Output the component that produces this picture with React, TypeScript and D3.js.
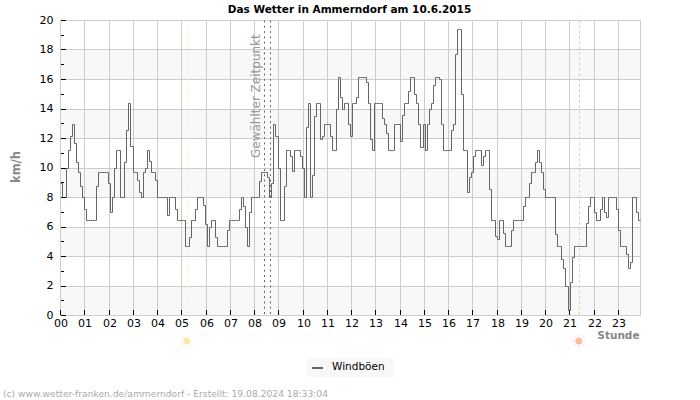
import React from "react";
import * as d3 from "d3";

const hourLabels = ["00","01","02","03","04","05","06","07","08","09","10","11","12","13","14","15","16","17","18","19","20","21","22","23"];
const majorTicks = [0,2,4,6,8,10,12,14,16,18,20];
const minorTicks = [1,3,5,7,9,11,13,15,17,19];
const bands = [0,4,8,12,16];
const sunrise = 5.25;
const sunset = 21.4;
const selected = [8.4, 8.65];

const h00 = [9,8,8,10,11.2,12.2,13,11.7,10.4,9.7,8.8,8];
const h01 = [7.2,6.5,6.5,6.5,6.5,6.5,8.8,9.7,9.7,9.7,9.7,9.7];
const h02 = [9,7,8,10,11.2,11.2,8,8,10.4,12.6,14.4,11.5];
const h03 = [9.7,9.7,9.2,8.4,8,9.7,10,11.2,10.5,9.7,9.7,9.2];
const h04 = [8,8,8,8,8,6.8,8,8,8,7.2,6.5,6.5];
const h05 = [6.5,6.5,4.7,4.7,5.3,6.5,6.5,7.2,8,8,8,7.5];
const h06 = [6.2,4.7,6,6.5,6.5,5.3,4.7,4.7,4.7,4.7,4.7,5.8];
const h07 = [6.5,6.5,6.5,6.5,6.5,7.2,8,7.4,6,4.7,7,8];
const h08 = [8,8,8,9.1,9.7,9.7,9.7,9.4,8,9,13,12.2];
const h09 = [10,6.5,6.5,8.8,11.2,11.2,10.8,9.8,11.2,11.2,11.2,10.8];
const h10 = [10,8,12.8,14.4,8,9.5,13.5,14.4,14.4,12,12.2,13];
const h11 = [13,13,12.2,11.2,11.2,14,16.2,14.8,14,14.4,14.4,13];
const h12 = [12.2,14.4,14.4,14.8,16.2,16.2,16.2,16.2,15.8,14.4,12,11.2];
const h13 = [14.4,14.4,14.4,14.4,13.4,13,12.4,11.2,11.2,11.2,13,13];
const h14 = [13,11.8,13.6,14.4,14.4,15.2,16.2,16.2,15,14.4,13,11.4];
const h15 = [13,11.2,13,14,14.4,15.6,16.2,16.2,16,13,11.2,11.2];
const h16 = [11.2,11.2,12.6,13,17.7,19.4,19.4,15,11.2,11.2,8.4,9.4];
const h17 = [9.7,10.8,11.2,11.2,11.2,10.2,10.8,11.2,11.2,8.6,6.5,6.5];
const h18 = [5.4,5.2,6.5,6.5,5.6,4.7,4.7,4.7,5.8,6.5,6.5,6.5];
const h19 = [6.5,6.5,7.4,8,8,9,9.7,9.7,10.4,11.2,10.4,9.7];
const h20 = [8.6,8,8,8,8,8,5.5,4.7,4.7,3.8,3.2,2];
const h21 = [0.4,2.3,4,4.7,4.7,4.7,4.7,4.7,4.7,6.3,7.4,8];
const h22 = [8,7,6.5,6.5,7.2,8,7,6.7,8,8,8,8];
const h23 = [7.2,5.8,4.7,4.7,4.7,4.2,3.2,3.6,8,8,7,6.5];

const gusts = [h00,h01,h02,h03,h04,h05,h06,h07,h08,h09,h10,h11,h12,h13,h14,h15,h16,h17,h18,h19,h20,h21,h22,h23].flat();

const FONT = "'DejaVu Sans', sans-serif";
const GRID = "#cccccc";

function Sun({ cx, cy, color, ray }: { cx: number; cy: number; color: string; ray: string }) {
  const angles = d3.range(0, 360, 45);
  return (
    <g>
      {angles.map((a) => {
        const r = (a * Math.PI) / 180;
        return (
          <line key={a} x1={cx + 3 * Math.cos(r)} y1={cy + 3 * Math.sin(r)} x2={cx + 6.5 * Math.cos(r)} y2={cy + 6.5 * Math.sin(r)} stroke={ray} strokeWidth={1} />
        );
      })}
      <circle cx={cx} cy={cy} r={3.3} fill={color} />
    </g>
  );
}

export default function App() {
  // The hour axis ends at the last sample (23:55), the plot's right edge.
  const hx = d3.scaleLinear().domain([0, 287 / 12]).range([60, 640]);
  const sx = d3.scaleLinear().domain([0, 24]).range([60.5, 640.5]);
  const y = d3.scaleLinear().domain([0, 20]).range([315.5, 20.5]);
  const gridX = (h: number) => Math.round(hx(h)) + 0.5;
  const gridY = (v: number) => Math.floor(y(v)) + 0.5;
  const line = d3
    .line<number>()
    .x((_, i) => Math.floor(sx(i / 12)) + 0.5)
    .y((d) => Math.round(y(d)) + 0.5)
    .curve(d3.curveStepAfter);
  const series = [...gusts, gusts[gusts.length - 1]];

  return (
    <svg
      width={700}
      height={400}
      style={{ position: "absolute", left: 0, top: 0, background: "#ffffff" }}
      fontFamily={FONT}
    >
      <text x={349.5} y={13} textAnchor="middle" fontSize={10.5} fontWeight="bold" fill="#000">
        Das Wetter in Ammerndorf am 10.6.2015
      </text>

      {bands.map((b) => (
        <rect key={b} x={60.5} width={580} y={gridY(b + 2)} height={gridY(b) - gridY(b + 2)} fill="#f8f8f8" />
      ))}

      {majorTicks.map((t) => (
        <line key={t} x1={60.5} x2={640.5} y1={gridY(t)} y2={gridY(t)} stroke={GRID} />
      ))}
      {hourLabels.map((_, i) => (
        <line key={i} x1={gridX(i)} x2={gridX(i)} y1={gridY(20)} y2={gridY(0)} stroke={GRID} />
      ))}
      <line x1={640.5} x2={640.5} y1={gridY(20)} y2={gridY(0)} stroke={GRID} />

      <line x1={gridX(sunrise)} x2={gridX(sunrise)} y1={gridY(20)} y2={gridY(0)} stroke="#f7f2a0" strokeDasharray="2,3.3" />
      <line x1={gridX(sunset)} x2={gridX(sunset)} y1={gridY(20)} y2={gridY(0)} stroke="#eecb80" strokeDasharray="2.5,2.8" />
      {selected.map((s) => (
        <line key={s} x1={gridX(s)} x2={gridX(s)} y1={gridY(20)} y2={gridY(0)} stroke="#666" strokeDasharray="2,3.3" />
      ))}

      <text transform="translate(260,158) rotate(-90)" fontSize={12} fill="#999999">
        Gewählter Zeitpunkt
      </text>

      <path d={line(series) ?? ""} fill="none" stroke="#666666" strokeWidth={1} />

      {majorTicks.map((t) => (
        <g key={t}>
          <line x1={61} x2={66} y1={gridY(t)} y2={gridY(t)} stroke="#000" />
          <text x={53.5} y={y(t) + 3} textAnchor="end" fontSize={11} fill="#000">
            {t}
          </text>
        </g>
      ))}
      {minorTicks.map((t) => (
        <line key={t} x1={61} x2={64} y1={gridY(t)} y2={gridY(t)} stroke="#000" />
      ))}
      {hourLabels.map((h, i) => (
        <g key={h}>
          <line x1={gridX(i)} x2={gridX(i)} y1={310} y2={315} stroke="#000" />
          <text x={gridX(i) + 0.5} y={327} textAnchor="middle" fontSize={11} fill="#000">
            {h}
          </text>
        </g>
      ))}

      <text transform="translate(19.5,167) rotate(-90)" textAnchor="middle" fontSize={11.5} fontWeight="bold" fill="#888888">
        km/h
      </text>
      <text x={639.5} y={338.5} textAnchor="end" fontSize={10.5} fontWeight="bold" fill="#888888">
        Stunde
      </text>

      <Sun cx={186.7} cy={341} color="#fde7a8" ray="#fdf0c8" />
      <Sun cx={578.7} cy={341} color="#ffb8a4" ray="#ffd8cc" />

      <rect x={307} y={358} width={87} height={19} fill="#f8f8f8" />
      <line x1={312} x2={323} y1={368} y2={368} stroke="#666666" strokeWidth={2} />
      <text x={332} y={370} fontSize={10.5} fill="#000">
        Windböen
      </text>

      <text x={3} y={397} fontSize={9.17} fill="#aaaaaa">
        (c) www.wetter-franken.de/ammerndorf - Erstellt: 19.08.2024 18:33:04
      </text>
    </svg>
  );
}
